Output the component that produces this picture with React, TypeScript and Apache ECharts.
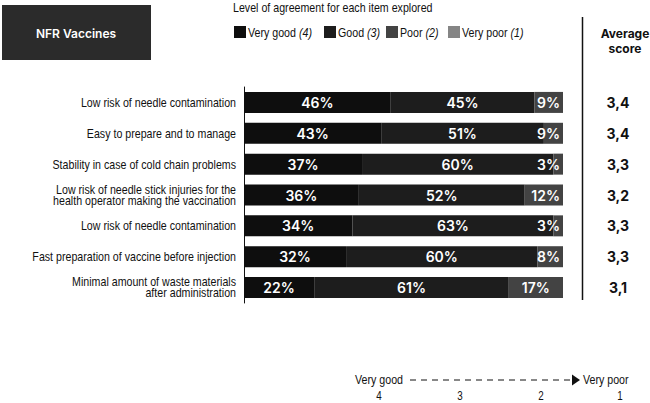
import React, { useEffect, useRef } from "react";
import * as echarts from "echarts";

const categories = [
  "Low risk of needle contamination",
  "Easy to prepare and to manage",
  "Stability in case of cold chain problems",
  "Low risk of needle stick injuries for the\nhealth operator making the vaccination",
  "Low risk of needle contamination",
  "Fast preparation of vaccine before injection",
  "Minimal amount of waste materials\nafter administration",
];
const veryGood = [46, 43, 37, 36, 34, 32, 22];
const good = [45, 51, 60, 52, 63, 60, 61];
const poor = [9, 9, 3, 12, 3, 8, 17];
const veryPoor = [0, 0, 0, 0, 0, 0, 0];
const averageScores = ["3,4", "3,4", "3,3", "3,2", "3,3", "3,3", "3,1"];
const legendNames = ["Very good", "Good", "Poor", "Very poor"];
const legendScores = ["4", "3", "2", "1"];
const scaleTicks = ["4", "3", "2", "1"];

const NARROW = '"Liberation Sans", Arial, sans-serif';
const NX = 0.82;
const BOLD = 'Inter, Roboto, "DejaVu Sans", sans-serif';
const colors = ["#0e0e0e", "#1d1d1d", "#434343", "#858585"];
const legendX = [234, 324, 386, 448];
const scaleX = [379, 460, 541, 620];

function narrowText(x: number, y: number, text: string, align: string, size = 13, extra: any = {}) {
  return {
    type: "text",
    x,
    y,
    scaleX: NX,
    silent: true,
    style: {
      text,
      fill: "#111",
      font: size + "px " + NARROW,
      textAlign: align,
      textVerticalAlign: "middle",
      ...extra,
    },
  };
}

export default function App() {
  const ref = useRef<HTMLDivElement>(null);
  useEffect(() => {
    if (!ref.current) return;
    const chart = echarts.init(ref.current, undefined, { renderer: "svg" });
    const seriesData = [veryGood, good, poor, veryPoor];
    const series = seriesData.map((d, i) => ({
      name: legendNames[i],
      type: "bar",
      stack: "total",
      barWidth: 21,
      data: d.map((v) => ({
        value: v,
        label: i === 2 && v < 15 ? { position: "insideRight", distance: 3 } : undefined,
      })),
      itemStyle: { color: colors[i] },
      label: {
        show: true,
        position: "inside",
        color: "#ffffff",
        fontFamily: BOLD,
        fontWeight: 600,
        fontSize: 14,
        formatter: (p: any) => (p.value > 0 ? p.value + "%" : ""),
      },
    }));

    const staticGraphics: any[] = [
      { type: "rect", shape: { x: 2, y: 5, width: 149, height: 55 }, style: { fill: "#2b2b2b" } },
      {
        type: "text",
        x: 76,
        y: 33,
        style: {
          text: "NFR Vaccines",
          fill: "#ffffff",
          font: "600 12px " + BOLD,
          textAlign: "center",
          textVerticalAlign: "middle",
        },
      },
      narrowText(233, 8, "Level of agreement for each item explored", "left"),
      { type: "line", shape: { x1: 582.5, y1: 17, x2: 582.5, y2: 300 }, style: { stroke: "#111", lineWidth: 1.5 } },
      {
        type: "text",
        x: 625,
        y: 33,
        style: { text: "Average", fill: "#111", font: "700 12px " + BOLD, lineHeight: 12, textAlign: "center", textVerticalAlign: "middle" },
      },
      {
        type: "text",
        x: 625,
        y: 48,
        style: { text: "score", fill: "#111", font: "700 12px " + BOLD, lineHeight: 12, textAlign: "center", textVerticalAlign: "middle" },
      },
      narrowText(403, 380, "Very good", "right"),
      {
        type: "line",
        shape: { x1: 410, y1: 380, x2: 572, y2: 380 },
        style: { stroke: "#111", lineWidth: 1, lineDash: [6, 5] },
      },
      {
        type: "polygon",
        shape: { points: [[572, 374.5], [580, 380], [572, 385.5]] },
        style: { fill: "#111" },
      },
      narrowText(583, 380, "Very poor", "left"),
      ...scaleTicks.map((t, i) => narrowText(scaleX[i], 396, t, "center", 12)),
    ];
    legendNames.forEach((n, i) => {
      staticGraphics.push({ type: "rect", shape: { x: legendX[i], y: 26, width: 12, height: 12 }, style: { fill: colors[i] } });
      staticGraphics.push(
        narrowText(legendX[i] + 14, 32.5, n + " {i|(" + legendScores[i] + ")}", "left", 13, {
          rich: { i: { font: "italic 13px " + NARROW, fill: "#111" } },
        })
      );
    });

    chart.setOption({
      animation: false,
      backgroundColor: "#ffffff",
      grid: { left: 244, right: 87, top: 87, height: 216 },
      xAxis: { type: "value", min: 0, max: 100, show: false },
      yAxis: [
        {
          type: "category",
          data: categories,
          inverse: true,
          axisLine: { show: true, lineStyle: { color: "#111", width: 1 } },
          axisTick: { show: false },
          axisLabel: { show: false },
        },
        {
          type: "category",
          data: averageScores,
          inverse: true,
          position: "right",
          axisLine: { show: false },
          axisTick: { show: false },
          axisLabel: {
            margin: 55,
            align: "center",
            fontFamily: BOLD,
            fontWeight: 700,
            fontSize: 14,
            color: "#111",
          },
        },
      ],
      series,
      graphic: staticGraphics,
    });

    const labelGraphics = categories.map((c, i) => {
      const y = chart.convertToPixel({ yAxisIndex: 0 }, i) as number;
      return narrowText(236, y, c, "right", 13, { lineHeight: 11 });
    });
    chart.setOption({ graphic: [...staticGraphics, ...labelGraphics] });

    return () => chart.dispose();
  }, []);
  return (
    <div
      ref={ref}
      style={{ position: "fixed", left: 0, top: 0, width: 650, height: 403, background: "#fff" }}
    />
  );
}
